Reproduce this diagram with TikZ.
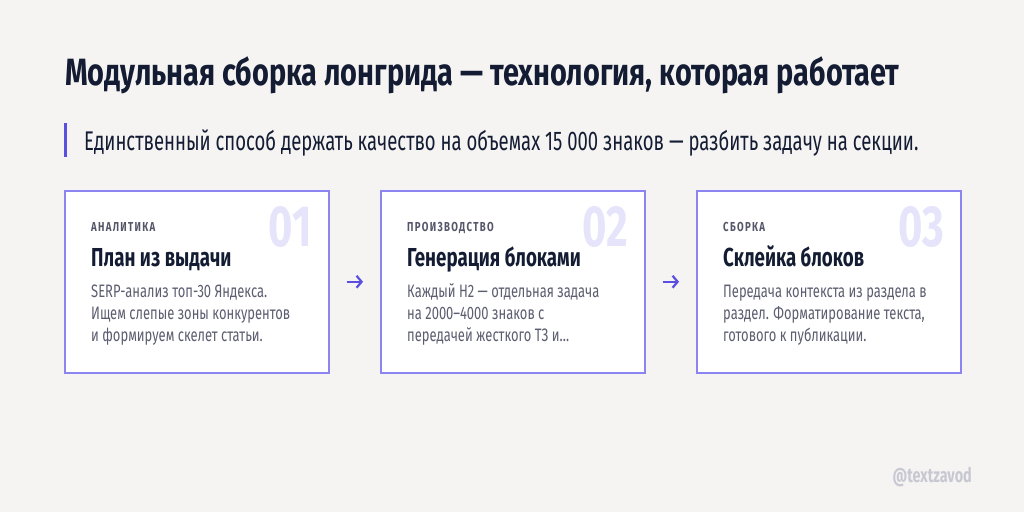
\documentclass[tikz,border=0pt]{standalone}
\usepackage{fontspec}
\usetikzlibrary{arrows.meta,calc}
\newfontfamily\tfont[FakeStretch=0.76]{Fira Sans}
\newfontfamily\subfont[FakeStretch=0.685]{Fira Sans}
\newfontfamily\sfontc[FakeStretch=0.72]{Fira Sans}
\newfontfamily\lblfont[FakeStretch=0.74,LetterSpace=10]{Fira Sans}
\definecolor{bg}{HTML}{F5F4F2}
\definecolor{navy}{HTML}{131C33}
\definecolor{accent}{HTML}{5B4FE0}
\definecolor{boxline}{HTML}{8C84F0}
\definecolor{lblgray}{HTML}{55566A}
\definecolor{bodygray}{HTML}{5C5E70}
\definecolor{numcol}{HTML}{E6E4FA}
\definecolor{wm}{HTML}{C8C8D2}
\tikzset{
  card/.style={draw=boxline, line width=1.5pt, fill=white, minimum width=264pt, minimum height=182pt, inner sep=0pt, anchor=north west},
  lbl/.style={anchor=base west, inner sep=0pt, text=lblgray, font=\lblfont\bfseries\fontsize{13}{14}\selectfont},
  head/.style={anchor=base west, inner sep=0pt, text=navy, font=\sfontc\bfseries\fontsize{26}{27}\selectfont},
  body/.style={anchor=base west, inner sep=0pt, text=bodygray, font=\sfontc\fontsize{18}{22}\selectfont},
  num/.style={anchor=base east, inner sep=0pt, text=numcol, font=\sfontc\bfseries\fontsize{58}{58}\selectfont},
  arr/.style={draw=accent, line width=2.2pt, -{Straight Barb[length=5pt,width=12pt,line width=2.2pt]}, shorten <=17pt, shorten >=17pt}
}
\newcommand\cardtext[8]{%
  \node[card] (c#1) at (#2,190) {};
  \node[num] (n#1) at (#2+248,246) {#3};
  \node[lbl] (l#1) at (#2+27,231.5) {#4};
  \node[head] (h#1) at (#2+27,266) {#5};
  \node[body] (ba#1) at (#2+27,297) {#6};
  \node[body] (bb#1) at (#2+27,319) {#7};
  \node[body] (bc#1) at (#2+27,341) {#8};
}
\begin{document}
\begin{tikzpicture}[x=1pt,y=-1pt]
\fill[bg] (0,0) rectangle (1024,512);
\useasboundingbox (0,0) rectangle (1024,512);
\node[anchor=base west, inner sep=0pt, text=navy, font=\tfont\bfseries\fontsize{38}{39}\selectfont] (title) at (65,85) {Модульная сборка лонгрида — технология, которая работает};
\fill[accent] (64,123) rectangle (67,157);
\node[anchor=base west, inner sep=0pt, text=navy, font=\subfont\fontsize{27}{28}\selectfont] (sub) at (84,150) {Единственный способ держать качество на объемах 15 000 знаков — разбить задачу на секции.};
\cardtext{1}{64}{01}{АНАЛИТИКА}{План из выдачи}{SERP-анализ топ-30 Яндекса.}{Ищем слепые зоны конкурентов}{и формируем скелет статьи.}
\cardtext{2}{380}{02}{ПРОИЗВОДСТВО}{Генерация блоками}{Каждый H2 — отдельная задача}{на 2000–4000 знаков с}{передачей жесткого ТЗ и…}
\cardtext{3}{696}{03}{СБОРКА}{Склейка блоков}{Передача контекста из раздела в}{раздел. Форматирование текста,}{готового к публикации.}
\draw[arr] (c1.east) -- (c2.west);
\draw[arr] (c2.east) -- (c3.west);
\node[anchor=base east, inner sep=0pt, text=wm, font=\sfontc\bfseries\fontsize{20}{21}\selectfont] (wmk) at (972,482) {@textzavod};
\end{tikzpicture}
\end{document}
